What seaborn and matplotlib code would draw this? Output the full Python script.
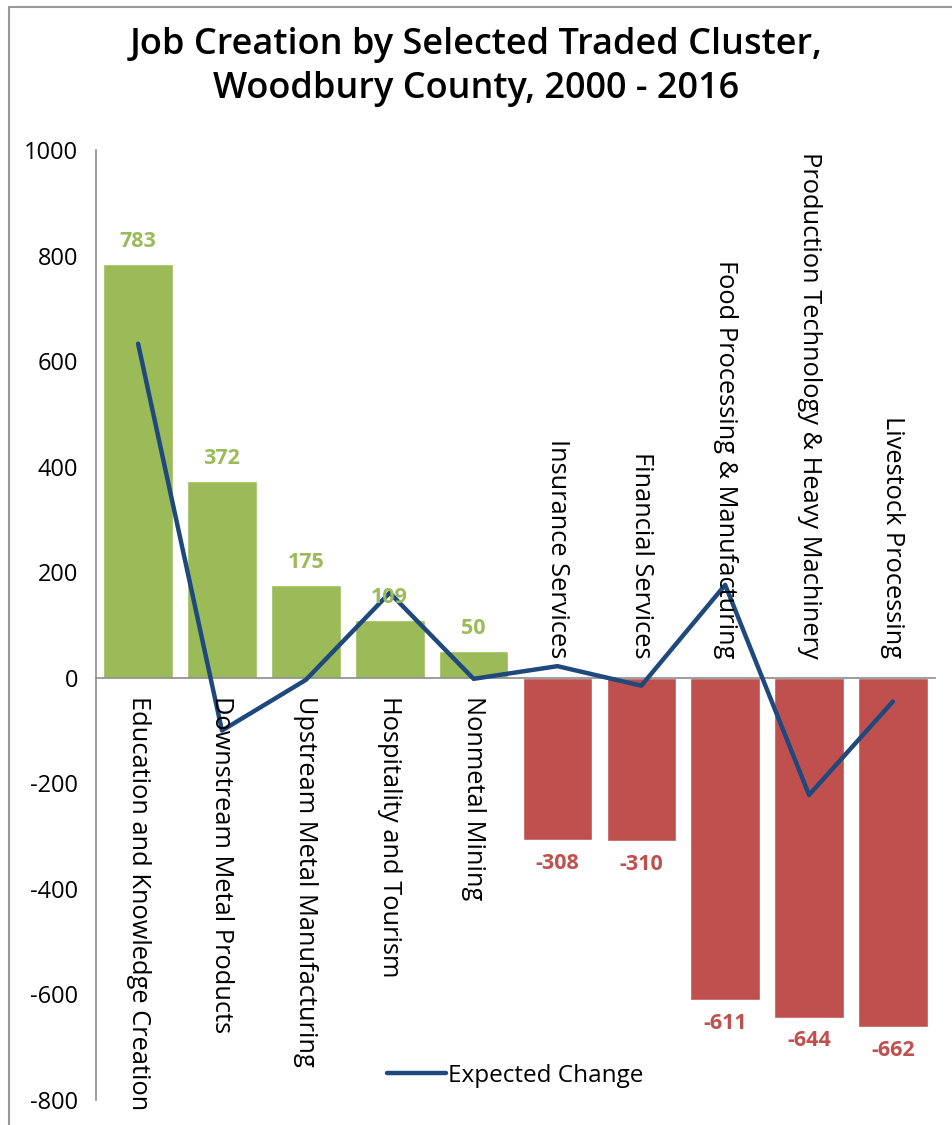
import numpy as np
import pandas as pd
import matplotlib
matplotlib.use('Agg')
from matplotlib import pyplot as plt
from matplotlib.lines import Line2D
import seaborn as sns

sns.set_style('white')
plt.rcParams['font.family'] = ['Open Sans', 'DejaVu Sans']
plt.rcParams['text.color'] = 'black'
plt.rcParams['ytick.labelcolor'] = 'black'

# DATA
clusters = ['Education and Knowledge Creation', 'Downstream Metal Products',
            'Upstream Metal Manufacturing', 'Hospitality and Tourism', 'Nonmetal Mining',
            'Insurance Services', 'Financial Services', 'Food Processing & Manufacturing',
            'Production Technology & Heavy Machinery', 'Livestock Processing']
job_change = [783, 372, 175, 109, 50, -308, -310, -611, -644, -662]
expected_change = [633, -100, -4, 161, -2, 22, -15, 176, -222, -45]
yticks = [-800, -600, -400, -200, 0, 200, 400, 600, 800, 1000]

green = '#9BBB59'
red = '#C0504D'
navy = '#1F497D'

df = pd.DataFrame({'cluster': clusters, 'change': job_change, 'expected': expected_change})
df['sign'] = np.where(df['change'] >= 0, 'pos', 'neg')

fig = plt.figure(figsize=(9.52, 11.25), dpi=100)
ax = fig.add_axes([0.101, 0.0222, 0.881, 0.8445])

sns.barplot(data=df, x='cluster', y='change', hue='sign', palette={'pos': green, 'neg': red},
            width=0.83, legend=False, ax=ax, saturation=1, dodge=False)
sns.lineplot(x=np.arange(len(df)), y=df['expected'], color=navy, linewidth=3.2,
             ax=ax, label='Expected Change', solid_capstyle='round')

ax.set_ylim(-800, 1000)
ax.set_xlim(-0.5, len(df) - 0.5)
ax.set_yticks(yticks)
ax.set_yticklabels([str(t) for t in yticks], fontsize=17, color='black')
ax.set_xlabel('')
ax.set_ylabel('')

# spines: only left, and the zero line for x
for s in ['top', 'right']:
    ax.spines[s].set_visible(False)
ax.spines['left'].set_color('#8c8c8c')
ax.spines['left'].set_linewidth(1.2)
ax.spines['bottom'].set_position(('data', 0))
ax.spines['bottom'].set_color('#8c8c8c')
ax.spines['bottom'].set_linewidth(1.2)
ax.spines['bottom'].set_zorder(1)
ax.set_xticks(np.arange(-0.5, len(df), 1.0))
ax.set_xticklabels([])
ax.tick_params(axis='x', direction='out', length=7, color='#8c8c8c', width=1.2)
ax.tick_params(axis='y', direction='out', length=7, color='#8c8c8c', width=1.2, pad=6)

# category labels near the zero line
for i, (name, v) in enumerate(zip(df['cluster'], df['change'])):
    if v >= 0:
        ax.annotate(name, (i, 0), xytext=(0, -13), textcoords='offset points',
                    rotation=-90, ha='center', va='top', fontsize=18.3, color='black')
    else:
        ax.annotate(name, (i, 0), xytext=(0, 14), textcoords='offset points',
                    rotation=-90, ha='center', va='bottom', fontsize=18.3, color='black')

# value labels
for i, v in enumerate(df['change']):
    if v >= 0:
        ax.annotate(str(v), (i, v), xytext=(0, 9), textcoords='offset points',
                    ha='center', va='bottom', fontsize=15.5, fontweight='bold', color=green)
    else:
        ax.annotate(str(v), (i, v), xytext=(0, -9), textcoords='offset points',
                    ha='center', va='top', fontsize=15.5, fontweight='bold', color=red)

leg = ax.legend(loc='lower center', bbox_to_anchor=(0.5, -0.01), frameon=False, fontsize=17.5,
                handlelength=2.4, handletextpad=0.1)
for t in leg.get_texts():
    t.set_color('black')

fig.suptitle('Job Creation by Selected Traded Cluster,\nWoodbury County, 2000 - 2016',
             fontsize=26, fontweight='semibold', y=0.976, va='top', linespacing=1.3, color='black')

# outer frame lines (left and top)
fig.add_artist(Line2D([0.009, 0.009], [0, 0.994], transform=fig.transFigure, color='#999999', lw=1.5))
fig.add_artist(Line2D([0.009, 1.0], [0.994, 0.994], transform=fig.transFigure, color='#999999', lw=1.5))

plt.savefig('out.png', dpi=100)
